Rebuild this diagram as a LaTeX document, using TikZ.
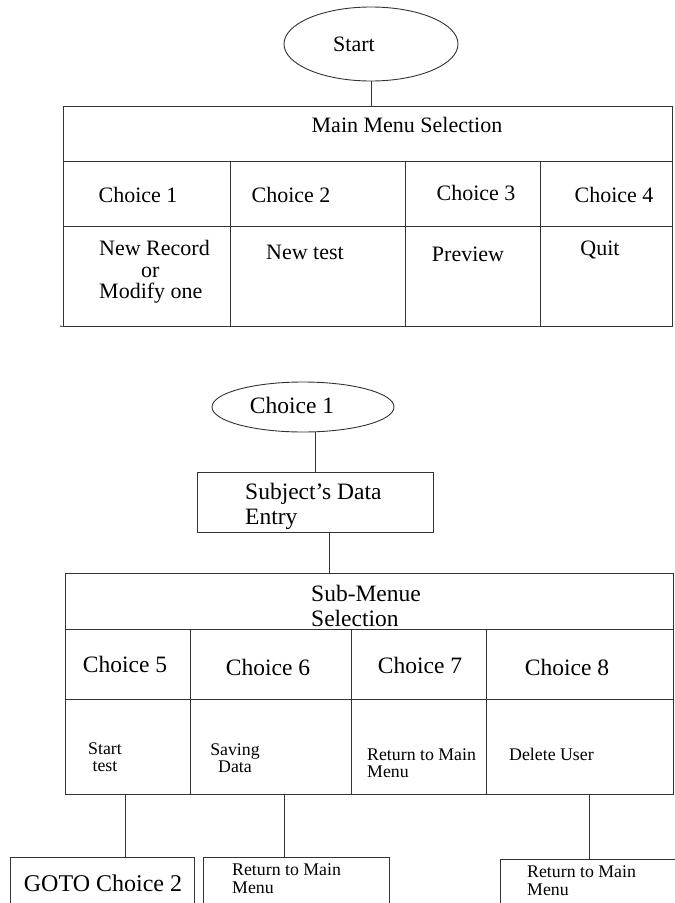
\documentclass[tikz,border=0pt]{standalone}
\usepackage{fontspec}
\setmainfont{Liberation Serif}
\usetikzlibrary{shapes.geometric}

\begin{document}
\begin{tikzpicture}[x=1pt, y=-1pt,
  edgeline/.style={line width=0.9pt, draw=black!80},
  oval/.style={ellipse, edgeline, inner sep=0pt},
  box/.style={rectangle, edgeline, inner sep=0pt},
  bigtxt/.style={font=\fontsize{22}{21.5}\selectfont, inner sep=0pt},
  subtxt/.style={font=\fontsize{23.5}{25}\selectfont, inner sep=0pt},
  smalltxt/.style={font=\fontsize{17.8}{17.5}\selectfont, inner sep=0pt}]
  \useasboundingbox (0,0) rectangle (675,903);
  \fill[white] (0,0) rectangle (675,903);
  \clip (0,0) rectangle (675,903);

  % main menu
  \node[oval, minimum width=174, minimum height=74] (start) at (371,44) {};
  \node[bigtxt] (tstart) at (354,44) {Start};

  \node[box, minimum width=609, minimum height=220] (mainsel) at (367.5,216) {};
  \draw[edgeline] (60,326) -- (mainsel.south west);
  \draw[edgeline] (63,161) -- (672,161);
  \draw[edgeline] (63,226) -- (672,226);
  \foreach \cx in {230,405,540}
    \draw[edgeline] (\cx,161) -- (\cx,326);
  \draw[edgeline] (start.south) -- (start.south |- mainsel.north);

  \node[bigtxt] (tmain) at (407,125) {Main Menu Selection};
  \node[bigtxt] (tc1) at (138,195) {Choice 1};
  \node[bigtxt] (tc2) at (291,195) {Choice 2};
  \node[bigtxt] (tc3) at (476,193) {Choice 3};
  \node[bigtxt] (tc4) at (614,195) {Choice 4};
  \node[bigtxt, anchor=west, align=left] (trec) at (99,272) {New Record\\\hspace*{42pt}or\\Modify one};
  \node[bigtxt] (ttest) at (305,252) {New test};
  \node[bigtxt] (tprev) at (468,254) {Preview};
  \node[bigtxt] (tquit) at (600,250) {Quit};

  % sub menu
  \node[oval, minimum width=182, minimum height=50] (choiceone) at (303,407) {};
  \node[subtxt] (tchoice) at (292,405) {Choice 1};

  \node[box, minimum width=236, minimum height=60] (subject) at (315,502) {};
  \node[subtxt, anchor=west, align=left] (tsubject) at (245,506) {Subject's Data\\Entry};
  \draw[edgeline] (subject.north) -- (subject.north |- choiceone.south);

  \node[box, minimum width=608, minimum height=221] (subsel) at (369,683.5) {};
  \coordinate (subin) at (329,573);
  \draw[edgeline] (subin |- subject.south) -- (subin);
  \draw[edgeline] (65,629) -- (673,629);
  \draw[edgeline] (65,699) -- (673,699);
  \foreach \cx in {190,351,486}
    \draw[edgeline] (\cx,629) -- (\cx,794);

  \node[subtxt, anchor=west, align=left] (tsub) at (311,605.5) {Sub-Menue\\Selection};
  \node[subtxt] (tc5) at (125,664) {Choice 5};
  \node[subtxt] (tc6) at (268,667) {Choice 6};
  \node[subtxt] (tc7) at (420,665) {Choice 7};
  \node[subtxt] (tc8) at (567,667) {Choice 8};
  \node[smalltxt, align=center] (tstarttest) at (105,757) {Start\\test};
  \node[smalltxt, align=center] (tsaving) at (235,758) {Saving\\Data};
  \node[smalltxt, anchor=west, align=left] (tret7) at (367,763) {Return to Main\\Menu};
  \node[smalltxt, anchor=west] (tdelete) at (509,754) {Delete User};

  % results
  \node[box, minimum width=184, minimum height=63] (goto) at (102,888.5) {};
  \node[box, minimum width=186, minimum height=63] (ret6) at (296,888.5) {};
  \node[box, minimum width=190, minimum height=61] (ret8) at (595,889.5) {};
  \node[subtxt, font=\fontsize{24}{25}\selectfont] (tgoto) at (103,883) {GOTO Choice 2};
  \node[smalltxt, anchor=west, align=left] (tret6) at (232,878.5) {Return to Main\\Menu};
  \node[smalltxt, anchor=west, align=left] (tret8) at (527,880.5) {Return to Main\\Menu};

  \coordinate (outa) at (125,794);
  \coordinate (outb) at (284,794);
  \coordinate (outc) at (589,794);
  \draw[edgeline] (outa) -- (outa |- goto.north);
  \draw[edgeline] (outb) -- (outb |- ret6.north);
  \draw[edgeline] (outc) -- (outc |- ret8.north);
\end{tikzpicture}
\end{document}
